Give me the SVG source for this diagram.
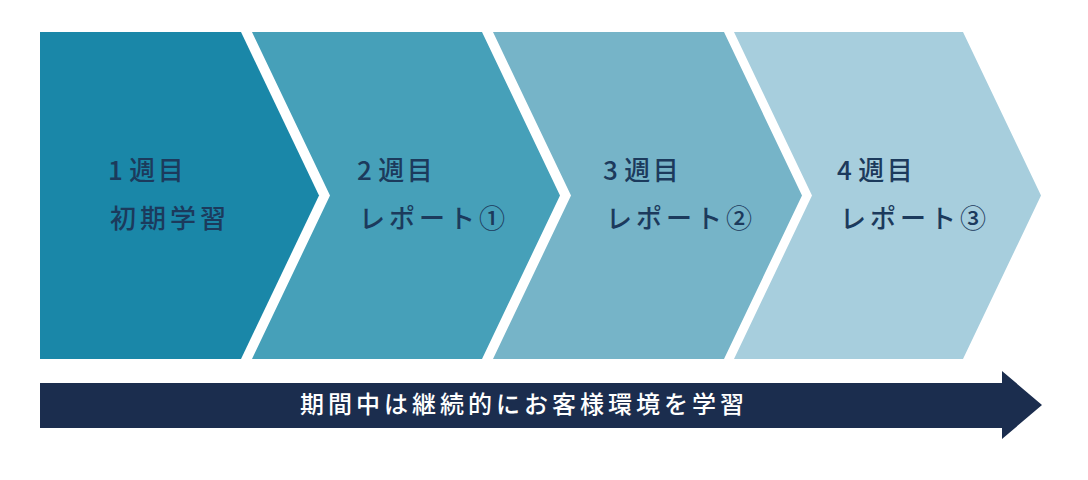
<svg xmlns="http://www.w3.org/2000/svg" width="1088" height="480" viewBox="0 0 1088 480">
<style>
.lbl{font-family:"Noto Sans CJK JP","Noto Sans",sans-serif;font-size:26px;font-weight:500;fill:#1c3a5c;letter-spacing:2.5px}
.l2{letter-spacing:4px}
.bar{font-family:"Noto Sans CJK JP","Noto Sans",sans-serif;font-size:24px;font-weight:500;fill:#ffffff;letter-spacing:4px}
</style>
<rect width="1088" height="480" fill="#ffffff"/>
<g id="step1">
<polygon points="40,32 241,32 319,195.5 241,359 40,359" fill="#1a87a8"/>
<text class="lbl" x="108" y="180">1<tspan dx="4">週目</tspan></text>
<text class="lbl l2" x="110" y="228">初期学習</text>
</g>
<g id="step2">
<polygon points="252,32 482,32 560,195.5 482,359 252,359 330,195.5" fill="#46a0b9"/>
<text class="lbl" x="357" y="180">2<tspan dx="4">週目</tspan></text>
<text class="lbl l2" x="359" y="228">レポート①</text>
</g>
<g id="step3">
<polygon points="493,32 724,32 802,195.5 724,359 493,359 571,195.5" fill="#76b4c8"/>
<text class="lbl" x="603" y="180">3<tspan dx="4">週目</tspan></text>
<text class="lbl l2" x="606" y="228">レポート②</text>
</g>
<g id="step4">
<polygon points="734,32 963,32 1041,195.5 963,359 734,359 812,195.5" fill="#a7cedd"/>
<text class="lbl" x="837" y="180">4<tspan dx="4">週目</tspan></text>
<text class="lbl l2" x="840" y="228">レポート③</text>
</g>
<g id="connectors">
<polygon points="40,383 1002,383 1002,371 1042,405 1002,439 1002,428 40,428" fill="#1b2d4e"/>
<text class="bar" x="524" y="413" text-anchor="middle">期間中は継続的にお客様環境を学習</text>
</g>
</svg>
